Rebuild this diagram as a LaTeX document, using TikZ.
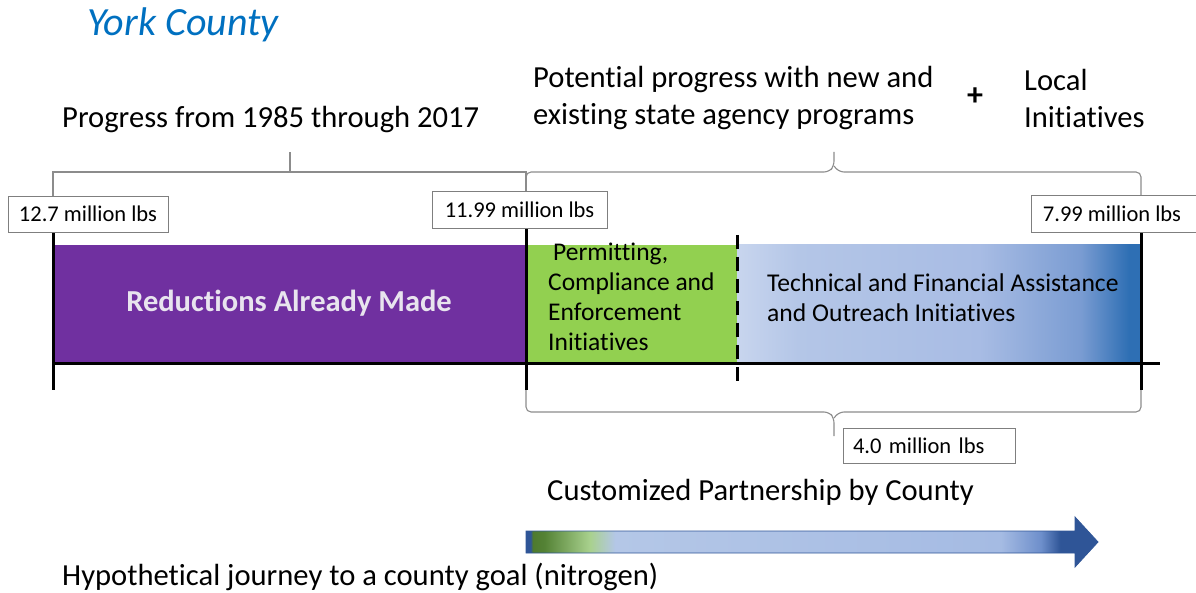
\documentclass[tikz,border=0pt]{standalone}
\usepackage{fontspec}
\setmainfont{Carlito}[Ligatures=NoCommon]
\definecolor{purp}{HTML}{7030A0}
\definecolor{grn}{HTML}{92D050}
\definecolor{titleblue}{HTML}{0070C0}
\definecolor{brgray}{HTML}{8C8C8C}
\definecolor{boxgray}{HTML}{7F7F7F}
\definecolor{redtxt}{HTML}{E8E4EE}
\definecolor{b1}{HTML}{C8D5EE}
\definecolor{b2}{HTML}{B4C6E7}
\definecolor{b3}{HTML}{A8BCE4}
\definecolor{b4}{HTML}{7A9CD2}
\definecolor{b5}{HTML}{2E6FB4}
\definecolor{a0}{HTML}{2F5597}
\definecolor{a1}{HTML}{4E7A2E}
\definecolor{a2}{HTML}{548235}
\definecolor{a3}{HTML}{A9D18E}
\definecolor{a4}{HTML}{B4C7E7}
\definecolor{a5}{HTML}{A5BBE3}
\definecolor{a6}{HTML}{6E8FCB}
\pgfdeclarehorizontalshading{bluebar}{100bp}{color(0bp)=(b1); color(25bp)=(b1); color(32.5bp)=(b2); color(55bp)=(b3); color(67.5bp)=(b4); color(73.5bp)=(b5); color(100bp)=(b5)}
\pgfdeclarehorizontalshading{arrowshade}{100bp}{color(0bp)=(a0); color(25bp)=(a0); color(25.4bp)=(a0); color(25.6bp)=(a1); color(26.6bp)=(a2); color(30.6bp)=(a3); color(32.8bp)=(a4); color(66.5bp)=(a5); color(70bp)=(a6); color(71.7bp)=(a0); color(100bp)=(a0)}
\tikzset{
  txt/.style={inner sep=0pt, anchor=west, font=\fontsize{30.6}{37}\selectfont, align=left},
  valbox/.style={draw=boxgray, line width=0.9pt, fill=white, inner sep=0pt, font=\fontsize{22.5}{26}\selectfont},
  tick/.style={line width=3pt, black},
  brace/.style={draw=brgray, line width=1.1pt, rounded corners=5pt},
  bartext/.style={inner sep=0pt, font=\fontsize{25.5}{30}\selectfont, align=left}
}
\begin{document}
\begin{tikzpicture}[x=1pt,y=-1pt]
\useasboundingbox (0,0) rectangle (1196,593);
% title
\node[inner sep=0pt, font=\fontsize{40}{46}\selectfont\itshape, text=titleblue] (title) at (183,25) {York County};
% headings
\node[txt] (prog) at (62,120) {Progress from 1985 through 2017};
\node[txt] (pot) at (533,98.5) {Potential progress with new and\\existing state agency programs};
\node[inner sep=0pt, font=\fontsize{32}{36}\selectfont\bfseries] (plus) at (975,97) {+};
\node[txt] (local) at (1024,98.5) {Local\\Initiatives};
% bars
\fill[purp] (53,245) rectangle (526,362);
\fill[grn] (526,245) rectangle (737,362);
\shade[shading=bluebar] (737,245) rectangle (1141,362);
\node[inner sep=0pt, font=\fontsize{30.5}{36}\selectfont\bfseries, text=redtxt] (red) at (289,303) {Reductions Already Made};
\node[bartext, anchor=north west] (perm) at (548,243) {\hspace*{5pt}Permitting,\\Compliance and\\Enforcement\\Initiatives};
\node[bartext, anchor=west, font=\fontsize{25.6}{30}\selectfont] (tech) at (767,298) {Technical and Financial Assistance\\and Outreach Initiatives};
% axis
\coordinate (s0) at (53,232);
\coordinate (s0b) at (53,390);
\coordinate (s1) at (526,228);
\coordinate (s1b) at (526,390);
\coordinate (s2) at (1141,232);
\coordinate (s2b) at (1141,390);
\coordinate (d0) at (737,235);
\coordinate (d0b) at (737,385);
\coordinate (ax0) at (53,363);
\coordinate (ax1) at (1160,363);
\draw[tick] (ax0) -- (ax1);
\draw[tick] (s0) -- (s0b);
\draw[tick] (s1) -- (s1b);
\draw[tick] (s2) -- (s2b);
\draw[line width=3pt, dash pattern=on 14pt off 8pt] (d0) -- (d0b);
% top-left bracket
\coordinate (bl0) at (53,196);
\coordinate (bl1) at (526,192);
\coordinate (blm) at (290,152);
\draw[brgray, line width=1.1pt] (bl0) -- (53,172) -- (526,172) -- (bl1);
\draw[brgray, line width=1.1pt] (290,172) -- (blm);
% top-right brace
\coordinate (br0) at (526,192);
\coordinate (br1) at (1141,196);
\coordinate (brm) at (834,152);
\draw[brace] (br0) -- (526,172) -- (829,172) -- (834,166) -- (brm);
\draw[brace] (br1) -- (1141,172) -- (839,172) -- (834,166);
% bottom brace
\coordinate (bb0) at (526,390);
\coordinate (bb1) at (1141,390);
\coordinate (bbm) at (834,436);
\draw[brace] (bb0) -- (526,412) -- (829,412) -- (834,418) -- (bbm);
\draw[brace] (bb1) -- (1141,412) -- (839,412) -- (834,418);
% value boxes
\node[valbox, minimum width=160pt, minimum height=36pt] (v1) at (88,214) {12.7 million lbs};
\node[valbox, minimum width=175pt, minimum height=37pt] (v2) at (519.5,209.5) {11.99 million lbs};
\node[valbox, minimum width=172pt, minimum height=37pt, anchor=west] (v3box) at (1031,213.5) {};
\node[inner sep=0pt, font=\fontsize{22.5}{26}\selectfont] (v3) at (1112,213.5) {7.99 million lbs};
\node[valbox, minimum width=172pt, minimum height=35pt, text width=152pt, align=left] (v4) at (929,445.5) {4.0 million lbs};
% bottom
\node[txt] (cust) at (547,492) {Customized Partnership by County};
\shade[shading=arrowshade, draw=a0, line width=0.8pt] (526,531) -- (1075,531) -- (1075,517) -- (1098,542) -- (1075,567) -- (1075,553) -- (526,553) -- cycle;
\node[txt] (hyp) at (62,577) {Hypothetical journey to a county goal (nitrogen)};
\end{tikzpicture}
\end{document}
